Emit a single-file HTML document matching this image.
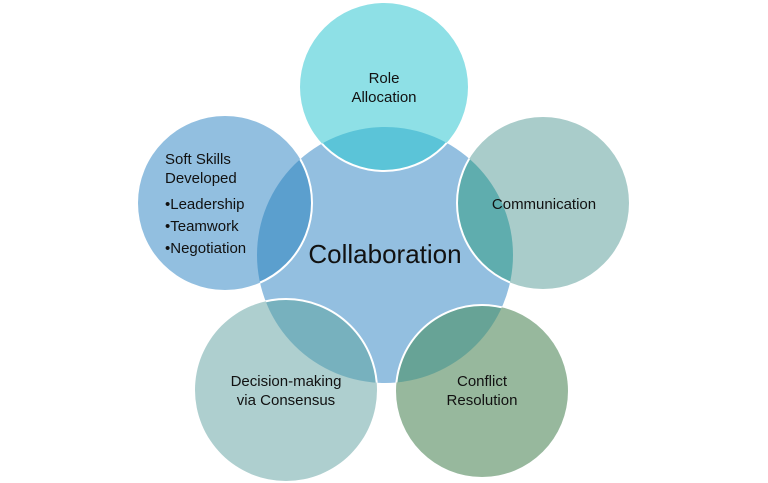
<!DOCTYPE html>
<html><head><meta charset="utf-8"><style>
html,body{margin:0;padding:0;background:#fff;}
svg{display:block}
text{font-family:"Liberation Sans",sans-serif;fill:#111;}
</style></head><body>
<svg width="768" height="483" viewBox="0 0 768 483">
<defs>
<clipPath id="cc"><circle cx="385" cy="255" r="128"/></clipPath>
</defs>
<circle cx="385" cy="255" r="128" fill="#93bfe0"/>
<circle cx="384" cy="87" r="84" fill="#8ee0e6"/>
<circle cx="543" cy="203" r="86" fill="#a9ccca"/>
<circle cx="225" cy="203" r="87" fill="#92bfe0"/>
<circle cx="286" cy="390" r="91" fill="#aecfcf"/>
<circle cx="482" cy="391" r="86" fill="#97b89d"/>
<g clip-path="url(#cc)">
<circle cx="384" cy="87" r="84" fill="#5bc4d8"/>
<circle cx="543" cy="203" r="86" fill="#5fadae"/>
<circle cx="225" cy="203" r="87" fill="#5b9fce"/>
<circle cx="286" cy="390" r="91" fill="#77b1be"/>
<circle cx="482" cy="391" r="86" fill="#67a396"/>
</g>
<g fill="none" stroke="#fff" stroke-width="2" clip-path="url(#cc)">
<circle cx="384" cy="87" r="84"/>
<circle cx="543" cy="203" r="86"/>
<circle cx="225" cy="203" r="87"/>
<circle cx="286" cy="390" r="91"/>
<circle cx="482" cy="391" r="86"/>
</g>
<text x="385" y="263" font-size="26" text-anchor="middle">Collaboration</text>
<g font-size="15" text-anchor="middle">
<text x="384" y="83">Role</text>
<text x="384" y="102">Allocation</text>
<text x="544" y="209">Communication</text>
<text x="482" y="386">Conflict</text>
<text x="482" y="405">Resolution</text>
<text x="286" y="386">Decision-making</text>
<text x="286" y="405">via Consensus</text>
</g>
<g font-size="15">
<text x="165" y="164">Soft Skills</text>
<text x="165" y="183">Developed</text>
<text x="165" y="209">•Leadership</text>
<text x="165" y="231">•Teamwork</text>
<text x="165" y="253">•Negotiation</text>
</g>
</svg>
</body></html>
